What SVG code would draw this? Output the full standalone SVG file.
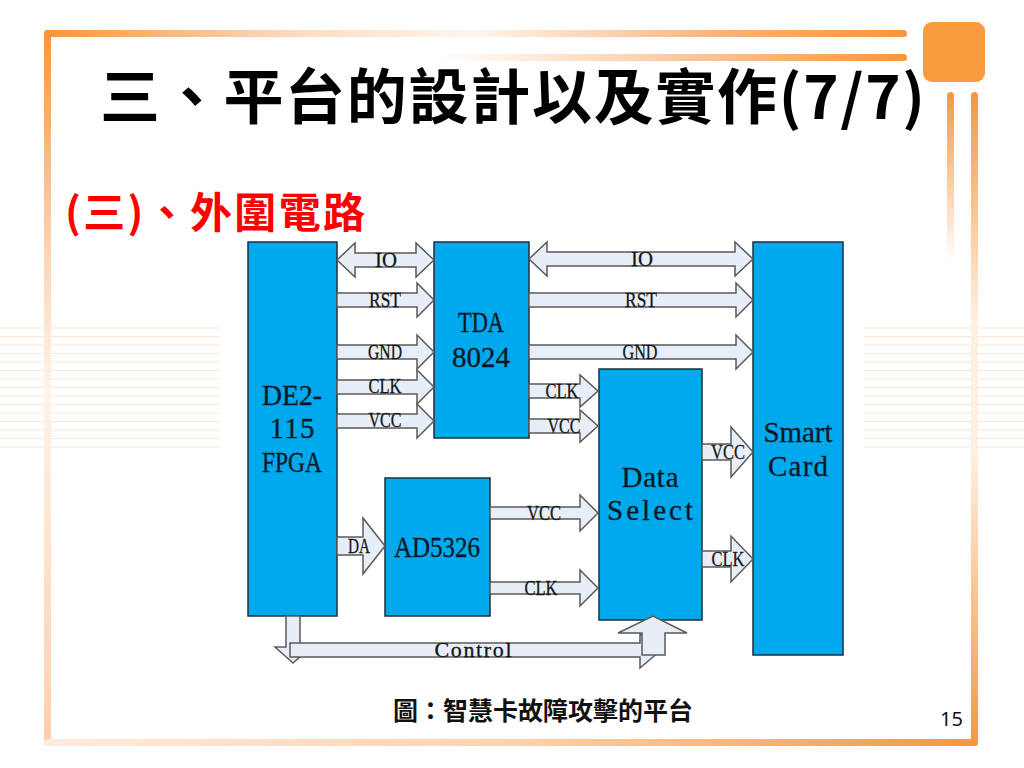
<svg xmlns="http://www.w3.org/2000/svg" width="1024" height="768" viewBox="0 0 1024 768">
<style>
.box{fill:#00A9EC;stroke:#1B2F3E;stroke-width:1.5}
.arr{fill:#E8EEF8;stroke:#5A5A5A;stroke-width:1.5;stroke-linejoin:miter}
.bl{font-family:"Liberation Serif","Times New Roman",serif;font-size:29px;fill:#0B1824;text-anchor:middle;stroke:#0B1824;stroke-width:0.3}
.cl{font-family:"Liberation Serif","Times New Roman",serif;font-size:22px;fill:#151515;text-anchor:middle;stroke:#151515;stroke-width:0.3}
.stripe{stroke:#FBE6D6;stroke-width:1}
.cjk{font-family:"Noto Sans CJK TC","Noto Sans CJK SC",sans-serif}
</style>
<defs>
<linearGradient id="gTop" x1="44" y1="0" x2="907" y2="0" gradientUnits="userSpaceOnUse">
<stop offset="0" stop-color="#F7963C"/>
<stop offset="0.3" stop-color="#FCDDC4"/>
<stop offset="0.5" stop-color="#FFF5EC"/>
<stop offset="0.78" stop-color="#F9B37A"/>
<stop offset="1" stop-color="#F7963C"/>
</linearGradient>
<linearGradient id="gTop2" x1="440" y1="0" x2="907" y2="0" gradientUnits="userSpaceOnUse">
<stop offset="0" stop-color="#FFFFFF"/>
<stop offset="0.6" stop-color="#FAC08E"/>
<stop offset="1" stop-color="#F7963C"/>
</linearGradient>
<linearGradient id="gLeft" x1="0" y1="30" x2="0" y2="746" gradientUnits="userSpaceOnUse">
<stop offset="0" stop-color="#F7963C"/>
<stop offset="0.3" stop-color="#FBD3B3"/>
<stop offset="0.5" stop-color="#FFF3EA"/>
<stop offset="1" stop-color="#FBCFAE"/>
</linearGradient>
<linearGradient id="gBot" x1="44" y1="0" x2="978" y2="0" gradientUnits="userSpaceOnUse">
<stop offset="0" stop-color="#FDEBDD"/>
<stop offset="0.5" stop-color="#FBD2B0"/>
<stop offset="1" stop-color="#F7963C"/>
</linearGradient>
<linearGradient id="gRight" x1="0" y1="92" x2="0" y2="746" gradientUnits="userSpaceOnUse">
<stop offset="0" stop-color="#F7963C"/>
<stop offset="0.35" stop-color="#FFF0E4"/>
<stop offset="0.55" stop-color="#FFF0E4"/>
<stop offset="1" stop-color="#F7963C"/>
</linearGradient>
<linearGradient id="gSmall" x1="0" y1="92" x2="0" y2="262" gradientUnits="userSpaceOnUse">
<stop offset="0" stop-color="#F7963C"/>
<stop offset="1" stop-color="#FFFFFF"/>
</linearGradient>
</defs>
<rect width="1024" height="768" fill="#FFFFFF"/>
<g id="background">
<g class="stripe">
<path d="M0 328H220M0 336.5H220M0 345H220M0 353.5H220M0 362H220M0 370.5H220M0 379H220M0 387.5H220M0 396H220M0 404.5H220M0 413H220M0 421.5H220M0 430H220M0 438.5H220M0 447H220"/>
<path d="M864 328H1024M864 336.5H1024M864 345H1024M864 353.5H1024M864 362H1024M864 370.5H1024M864 379H1024M864 387.5H1024M864 396H1024M864 404.5H1024M864 413H1024M864 421.5H1024M864 430H1024M864 438.5H1024M864 447H1024"/>
</g>
<rect x="44" y="30" width="863" height="7" rx="3.5" fill="url(#gTop)"/>
<rect x="440" y="54" width="467" height="7" rx="3.5" fill="url(#gTop2)"/>
<rect x="44" y="30" width="7" height="716" rx="3.5" fill="url(#gLeft)"/>
<rect x="44" y="739" width="934" height="7" rx="3.5" fill="url(#gBot)"/>
<rect x="971" y="92" width="7" height="654" rx="3.5" fill="url(#gRight)"/>
<rect x="947" y="92" width="7" height="170" rx="3.5" fill="url(#gSmall)"/>
<rect x="923" y="22" width="62" height="60" rx="9" fill="#F89B3F"/>
</g>
<text class="cjk" x="100" y="119" font-size="60" font-weight="700" fill="#000" textLength="825" lengthAdjust="spacing">三、平台的設計以及實作(7/7)</text>
<text class="cjk" x="65" y="228" font-size="42" font-weight="700" fill="#FF0000" textLength="300" lengthAdjust="spacing">(三)、外圍電路</text>

<g id="node-de2"><rect class="box" x="248" y="242" width="89" height="374"/>
<text class="bl" x="292" y="405" textLength="60" lengthAdjust="spacingAndGlyphs">DE2-</text><text class="bl" x="292" y="438" textLength="45">115</text><text class="bl" x="292" y="472" textLength="60" lengthAdjust="spacingAndGlyphs">FPGA</text></g>
<g id="node-tda"><rect class="box" x="434" y="242" width="95" height="196"/>
<text class="bl" x="481" y="332" textLength="46" lengthAdjust="spacingAndGlyphs">TDA</text><text class="bl" x="481" y="367" textLength="58">8024</text></g>
<g id="node-ad"><rect class="box" x="385" y="478" width="105" height="138"/>
<text class="bl" x="437" y="557" textLength="86" lengthAdjust="spacingAndGlyphs">AD5326</text></g>
<g id="node-ds"><rect class="box" x="599" y="369" width="103" height="251"/>
<text class="bl" x="650" y="487" textLength="57">Data</text><text class="bl" x="650" y="520" textLength="86">Select</text></g>
<g id="node-sc"><rect class="box" x="753" y="242" width="90" height="413"/>
<text class="bl" x="798" y="442" textLength="69">Smart</text><text class="bl" x="798" y="476" textLength="60">Card</text></g>

<g id="connectors">
<path class="arr" d="M337 260L355 243V253H416V243L434 260L416 277V267H355V277Z"/>
<path class="arr" d="M337 293H417V283L434 300L417 317V307H337Z"/>
<path class="arr" d="M337 345H417V335L434 352L417 369V359H337Z"/>
<path class="arr" d="M337 380H417V370L434 387L417 404V394H337Z"/>
<path class="arr" d="M337 414H417V404L434 421L417 438V428H337Z"/>
<path class="arr" d="M529 259L547 242V252H735V242L753 259L735 276V266H547V276Z"/>
<path class="arr" d="M529 293H736V283L753 300L736 317V307H529Z"/>
<path class="arr" d="M529 345H736V335L753 352L736 369V359H529Z"/>
<path class="arr" d="M529 384H580V375L598 391L580 407V398H529Z"/>
<path class="arr" d="M529 419H580V410L598 426L580 442V433H529Z"/>
<path class="arr" d="M490 507H580V495L598 513L580 531V519H490Z"/>
<path class="arr" d="M490 582H580V570L598 588L580 606V594H490Z"/>
<path class="arr" d="M337 537H363V518L385 546L363 574V555H337Z"/>
<path class="arr" d="M702 444H731V427L753 452L731 477V460H702Z"/>
<path class="arr" d="M702 551H731V536L753 559L731 582V567H702Z"/>
<path class="arr" d="M286 616H300V647H311L293 663L275 647H286Z"/>
<path class="arr" d="M290 643H640V634L660 651L640 668V657H290Z"/>
<path class="arr" d="M642 655V633H618L653 616L687 633H665V655Z"/>
<g>
<text class="cl" x="386" y="267" textLength="22" lengthAdjust="spacingAndGlyphs">IO</text>
<text class="cl" x="385" y="307" textLength="32" lengthAdjust="spacingAndGlyphs">RST</text>
<text class="cl" x="385" y="359" textLength="34" lengthAdjust="spacingAndGlyphs">GND</text>
<text class="cl" x="385" y="393" textLength="33" lengthAdjust="spacingAndGlyphs">CLK</text>
<text class="cl" x="385" y="427" textLength="33" lengthAdjust="spacingAndGlyphs">VCC</text>
<text class="cl" x="642" y="266" textLength="22" lengthAdjust="spacingAndGlyphs">IO</text>
<text class="cl" x="641" y="307" textLength="32" lengthAdjust="spacingAndGlyphs">RST</text>
<text class="cl" x="640" y="359" textLength="35" lengthAdjust="spacingAndGlyphs">GND</text>
<text class="cl" x="562" y="398" textLength="33" lengthAdjust="spacingAndGlyphs">CLK</text>
<text class="cl" x="564" y="433" textLength="33" lengthAdjust="spacingAndGlyphs">VCC</text>
<text class="cl" x="544" y="520" textLength="34" lengthAdjust="spacingAndGlyphs">VCC</text>
<text class="cl" x="541" y="595" textLength="33" lengthAdjust="spacingAndGlyphs">CLK</text>
<text class="cl" x="359" y="553" textLength="22" lengthAdjust="spacingAndGlyphs">DA</text>
<text class="cl" x="728" y="459" textLength="34" lengthAdjust="spacingAndGlyphs">VCC</text>
<text class="cl" x="728" y="566" textLength="33" lengthAdjust="spacingAndGlyphs">CLK</text>
<text class="cl" x="473" y="657" textLength="77">Control</text>
</g>
</g>
<text class="cjk" x="393" y="720" font-size="25" font-weight="700" fill="#111">圖：智慧卡故障攻擊的平台</text>
<text x="940" y="726" font-family="'Noto Sans',sans-serif" font-size="20" fill="#111">15</text>
</svg>
